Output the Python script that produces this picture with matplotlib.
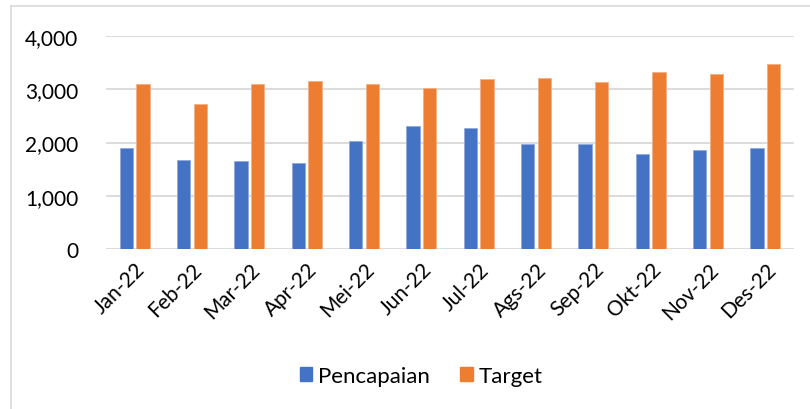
import matplotlib
matplotlib.use("Agg")
import matplotlib.pyplot as plt
import numpy as np
from matplotlib.lines import Line2D
from matplotlib.ticker import FuncFormatter

months = ["Jan-22", "Feb-22", "Mar-22", "Apr-22", "Mei-22", "Jun-22",
          "Jul-22", "Ags-22", "Sep-22", "Okt-22", "Nov-22", "Des-22"]
pencapaian = [1890, 1669, 1657, 1607, 2019, 2319, 2269, 1969, 1969, 1782, 1857, 1894]
target = [3095, 2720, 3107, 3157, 3094, 3032, 3194, 3219, 3144, 3320, 3282, 3482]
yticks = [0, 1000, 2000, 3000, 4000]

plt.rcParams['font.family'] = ['Lato', 'DejaVu Sans']

W, H = 810, 410
fig = plt.figure(figsize=(W / 100, H / 100), dpi=100)
ax = fig.add_axes([106 / W, 1 - 250 / H, (794 - 106) / W, (250 - 37) / H])

x = np.arange(len(months))
bw = 0.23
off = 0.145
blue = "#4472C4"
orange = "#ED7D31"
ax.bar(x - off, pencapaian, bw, color=blue, edgecolor="#8FAADC", linewidth=0.6,
       label="Pencapaian", zorder=3)
ax.bar(x + off, target, bw, color=orange, edgecolor="#F4B183", linewidth=0.6,
       label="Target", zorder=3)

ax.set_xlim(-0.5, len(months) - 0.5)
ax.set_ylim(0, 4000)
ax.set_yticks(yticks)
ax.yaxis.set_major_formatter(FuncFormatter(lambda v, p: f"{int(v):,}"))
ax.grid(axis='y', color="#D9D9D9", linewidth=1.3, zorder=0)
for s in ax.spines.values():
    s.set_visible(False)
ax.tick_params(axis='both', length=0, labelsize=15, colors="#000000")
ax.tick_params(axis='y', pad=20)
ax.set_xticks(x)
ax.set_xticklabels(months, rotation=45, ha='right', rotation_mode='anchor')
ax.tick_params(axis='x', pad=7)

handles = [plt.Rectangle((0, 0), 1, 1, color=blue), plt.Rectangle((0, 0), 1, 1, color=orange)]
fig.legend(handles, ["Pencapaian", "Target"], loc='center', bbox_to_anchor=(421 / W, 1 - 377 / H),
           ncol=2, frameon=False, fontsize=16, handlelength=0.55, handleheight=0.55,
           handletextpad=0.25, columnspacing=1.4)

# chart border (left and top visible)
fig.add_artist(Line2D([11 / W, 11 / W], [0, 1 - 7 / H], color="#D9D9D9", linewidth=1.2,
                      transform=fig.transFigure))
fig.add_artist(Line2D([11 / W, 1], [1 - 7 / H, 1 - 7 / H], color="#D9D9D9", linewidth=1.2,
                      transform=fig.transFigure))

fig.savefig("out.png", dpi=100)
